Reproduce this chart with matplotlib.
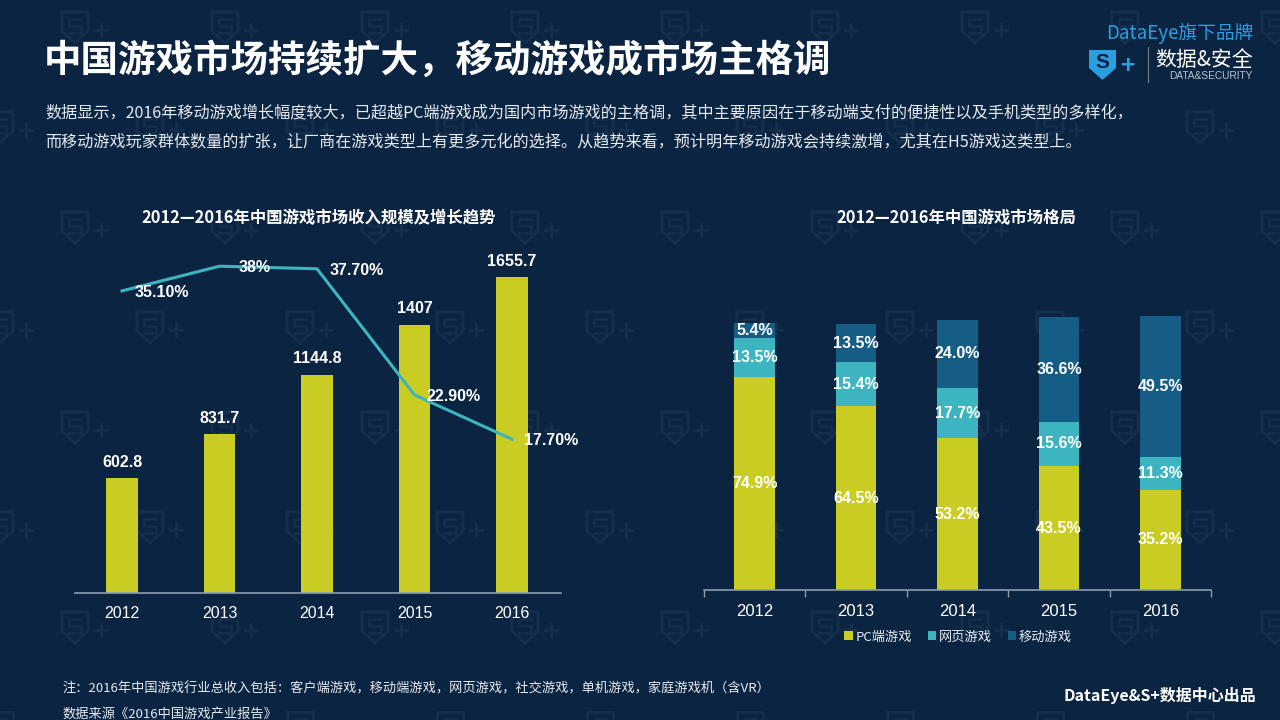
import matplotlib
matplotlib.use("Agg")
import matplotlib.pyplot as plt
from matplotlib.patches import Patch, Polygon
from matplotlib.lines import Line2D

plt.rcParams['font.family'] = ['Noto Sans CJK SC', 'DejaVu Sans']

# ---------------- data ----------------
years = ["2012", "2013", "2014", "2015", "2016"]
revenue = [602.8, 831.7, 1144.8, 1407, 1655.7]
growth = [35.1, 38.0, 37.7, 22.9, 17.7]
growth_labels = ["35.10%", "38%", "37.70%", "22.90%", "17.70%"]

pc_share = [74.9, 64.5, 53.2, 43.5, 35.2]
web_share = [13.5, 15.4, 17.7, 15.6, 11.3]
mobile_share = [5.4, 13.5, 24.0, 36.6, 49.5]
share_names = ["PC端游戏", "网页游戏", "移动游戏"]

title = "中国游戏市场持续扩大，移动游戏成市场主格调"
para1 = "数据显示，2016年移动游戏增长幅度较大，已超越PC端游戏成为国内市场游戏的主格调，其中主要原因在于移动端支付的便捷性以及手机类型的多样化，"
para2 = "而移动游戏玩家群体数量的扩张，让厂商在游戏类型上有更多元化的选择。从趋势来看，预计明年移动游戏会持续激增，尤其在H5游戏这类型上。"
left_title = "2012—2016年中国游戏市场收入规模及增长趋势"
right_title = "2012—2016年中国游戏市场格局"
note1 = "注：2016年中国游戏行业总收入包括：客户端游戏，移动端游戏，网页游戏，社交游戏，单机游戏，家庭游戏机（含VR）"
note2 = "数据来源《2016中国游戏产业报告》"
credit = "DataEye&S+数据中心出品"

# ---------------- style ----------------
BG = "#0B2441"
YELLOW = "#C9CC23"
TEAL = "#3DB5C1"
NAVY = "#165D85"
AXIS = "#8C9DB2"
WHITE = "#FFFFFF"
LIGHT = "#E6EBF1"
BLUE_LOGO = "#2A9FE0"
WM = "#142E4C"
LAT = ['Liberation Sans', 'Noto Sans CJK SC']

W, H = 1280, 720
fig = plt.figure(figsize=(12.8, 7.2), dpi=100, facecolor=BG)


def P(x, y):
    return x / W, 1 - y / H


# background layer with faint watermark shields
axBG = fig.add_axes([0, 0, 1, 1], zorder=-10)
axBG.set_xlim(0, W)
axBG.set_ylim(H, 0)
axBG.axis("off")
for r, cy in enumerate(range(27, 760, 100)):
    off = 0 if r % 2 == 0 else 75
    for cx in range(off - 75, 1360, 150):
        sx = [cx - 13, cx + 13, cx + 13, cx, cx - 13, cx - 13]
        sy = [cy - 15, cy - 15, cy + 4, cy + 16, cy + 4, cy - 15]
        axBG.plot(sx, sy, color=WM, lw=2.2, solid_joinstyle="round")
        axBG.plot([cx + 6, cx - 6, cx - 6, cx + 6, cx + 6, cx - 6],
                  [cy - 8, cy - 8, cy - 1, cy - 1, cy + 6, cy + 6], color=WM, lw=2)
        axBG.plot([cx + 20, cx + 32], [cy + 3, cy + 3], color=WM, lw=2.2)
        axBG.plot([cx + 26, cx + 26], [cy - 3, cy + 9], color=WM, lw=2.2)

# ---------------- header ----------------
fig.text(*P(44, 60), title, color=WHITE, fontsize=27, fontweight="bold", va="center", ha="left")
fig.text(*P(45, 113), para1, color=LIGHT, fontsize=11.6, va="center", ha="left")
fig.text(*P(45, 142), para2, color=LIGHT, fontsize=11.6, va="center", ha="left")

# logo
fig.text(*P(1253, 33), "DataEye旗下品牌", color=BLUE_LOGO, fontsize=13.5, ha="right", va="center")
shield = Polygon([P(1089, 50), P(1116, 50), P(1116, 68), P(1102.5, 80), P(1089, 68)],
                 closed=True, transform=fig.transFigure, facecolor=BLUE_LOGO, edgecolor="none")
fig.add_artist(shield)
fig.text(*P(1102.5, 63), "S", color=BG, fontsize=15, fontweight="bold", family=LAT, ha="center", va="center")
fig.text(*P(1128, 66), "+", color=BLUE_LOGO, fontsize=18, fontweight="bold", family=LAT, ha="center", va="center")
fig.add_artist(Line2D([1148 / W, 1148 / W], [1 - 47 / H, 1 - 82 / H], color="#6D7F94", lw=0.8,
                      transform=fig.transFigure))
fig.text(*P(1253, 60), "数据&安全", color=WHITE, fontsize=15, ha="right", va="center")
fig.text(*P(1253, 76), "DATA&SECURITY", color="#B9C4D0", fontsize=7.3, family=LAT, ha="right", va="center")

# ---------------- left chart ----------------
axL = fig.add_axes([75 / W, 1 - 593 / H, 486 / W, 340 / H])
axL.set_facecolor("none")
x = list(range(len(years)))
axL.bar(x, revenue, width=0.32, color=YELLOW, zorder=2)
axL.set_xlim(-0.482, 4.503)
axL.set_ylim(0, 1782)
for xi, v in zip(x, revenue):
    axL.annotate(f"{v:g}", (xi, v), xytext=(0, 6), textcoords="offset points",
                 ha="center", va="bottom", color=WHITE, fontsize=11.5, fontweight="bold", family=LAT)
axL.set_xticks(x)
axL.set_xticklabels(years, color=WHITE, fontsize=11.5, family=LAT)
axL.tick_params(axis="x", length=0, pad=9)
axL.set_yticks([])
for s in ["top", "right", "left"]:
    axL.spines[s].set_visible(False)
axL.spines["bottom"].set_color(AXIS)
axL.spines["bottom"].set_linewidth(1.2)

axR2 = axL.twinx()
axR2.plot(x, growth, color=TEAL, lw=2.2, zorder=3)
axR2.set_ylim(-0.35, 39.55)
axR2.set_yticks([])
for s in axR2.spines.values():
    s.set_visible(False)
for xi, v, lab in zip(x, growth, growth_labels):
    dx = 14 if lab == "38%" else 9
    axR2.annotate(lab, (xi, v), xytext=(dx, -1), textcoords="offset points",
                  ha="left", va="center", color=WHITE, fontsize=11.5, fontweight="bold", family=LAT)

fig.text(*P(319, 218), left_title, color=WHITE, fontsize=11.8, fontweight="bold", ha="center", va="center")

# ---------------- right chart ----------------
axS = fig.add_axes([704 / W, 1 - 590 / H, 507 / W, 285 / H])
axS.set_facecolor("none")
bottom2 = [a + b for a, b in zip(pc_share, web_share)]
axS.bar(x, pc_share, width=0.40, color=YELLOW, label=share_names[0])
axS.bar(x, web_share, width=0.40, bottom=pc_share, color=TEAL, label=share_names[1])
axS.bar(x, mobile_share, width=0.40, bottom=bottom2, color=NAVY, label=share_names[2])
axS.set_xlim(-0.5, 4.5)
axS.set_ylim(0, 100)
for xi in x:
    segs = [(0, pc_share[xi]), (pc_share[xi], web_share[xi]), (bottom2[xi], mobile_share[xi])]
    for b, h in segs:
        axS.text(xi, b + h / 2, f"{h:.1f}%", ha="center", va="center", color=WHITE,
                 fontsize=11.5, fontweight="bold", family=LAT)
axS.set_xticks(x)
axS.set_xticklabels(years, color=WHITE, fontsize=12, family=LAT)
axS.set_xticks([i - 0.5 for i in range(len(years) + 1)], minor=True)
axS.tick_params(axis="x", which="major", length=0, pad=10)
axS.tick_params(axis="x", which="minor", length=5, color=AXIS, width=1, direction="out")
axS.set_yticks([])
for s in ["top", "right", "left"]:
    axS.spines[s].set_visible(False)
axS.spines["bottom"].set_color(AXIS)
axS.spines["bottom"].set_linewidth(1.2)

fig.text(*P(956, 218), right_title, color=WHITE, fontsize=11.8, fontweight="bold", ha="center", va="center")

handles = [Patch(facecolor=c, edgecolor="none") for c in [YELLOW, TEAL, NAVY]]
leg = fig.legend(handles, share_names, loc="center", bbox_to_anchor=P(958, 637), ncol=3,
                 frameon=False, handlelength=0.65, handleheight=0.65, handletextpad=0.2,
                 columnspacing=1.2, fontsize=9.5)
for t in leg.get_texts():
    t.set_color(LIGHT)

# ---------------- footer ----------------
fig.text(*P(62, 689), note1, color=LIGHT, fontsize=9.5, ha="left", va="center")
fig.text(*P(62, 714), note2, color=LIGHT, fontsize=9.5, ha="left", va="center")
fig.text(*P(1256, 695), credit, color=WHITE, fontsize=11.5, fontweight="bold", ha="right", va="center")

fig.savefig("out.png", dpi=100, facecolor=BG)
